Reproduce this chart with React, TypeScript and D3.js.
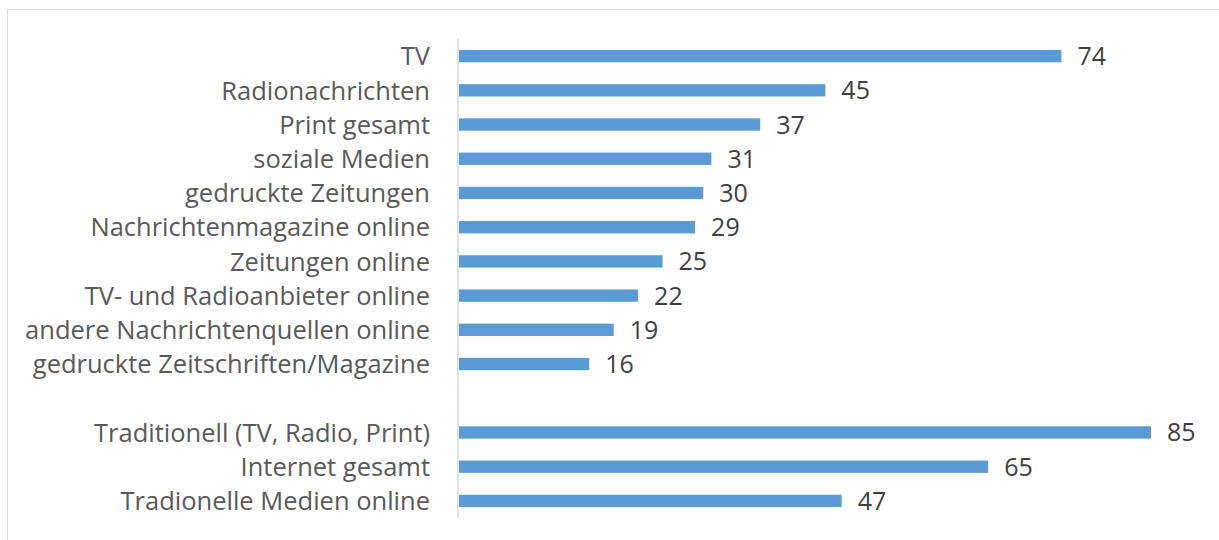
import React, { useEffect, useRef } from 'react';
import * as d3 from 'd3';

const categories = [
  'TV',
  'Radionachrichten',
  'Print gesamt',
  'soziale Medien',
  'gedruckte Zeitungen',
  'Nachrichtenmagazine online',
  'Zeitungen online',
  'TV- und Radioanbieter online',
  'andere Nachrichtenquellen online',
  'gedruckte Zeitschriften/Magazine',
  '',
  'Traditionell (TV, Radio, Print)',
  'Internet gesamt',
  'Tradionelle Medien online',
];
const values = [74, 45, 37, 31, 30, 29, 25, 22, 19, 16, null, 85, 65, 47];

const W = 1219;
const H = 540;

const App: React.FC = () => {
  const svgRef = useRef<SVGSVGElement>(null);

  useEffect(() => {
    if (!svgRef.current) return;
    const svg = d3.select(svgRef.current);
    svg.selectAll('*').remove();

    const font = '"Open Sans", "Noto Sans", sans-serif';

    // chart frame (runs off the right and bottom edge)
    svg.append('rect')
      .attr('x', 7.5).attr('y', 9.5)
      .attr('width', W + 20).attr('height', H + 20)
      .attr('fill', '#fff')
      .attr('stroke', '#d9d9d9')
      .attr('stroke-width', 1);

    const keys = categories.map((c, i) => `${i}`);
    const y = d3.scaleBand<string>().domain(keys).range([39, 518]).paddingInner(0.64).paddingOuter(0.32);
    const x = d3.scaleLinear().domain([0, 85]).range([459, 1151]);

    const rows = categories.map((c, i) => ({ key: keys[i], label: c, value: values[i] }));

    // axis line
    svg.append('line')
      .attr('x1', 458).attr('x2', 458)
      .attr('y1', 39).attr('y2', 518)
      .attr('stroke', '#d9d9d9').attr('stroke-width', 1.5);

    const data = rows.filter(d => d.value !== null) as { key: string; label: string; value: number }[];

    svg.selectAll('.bar')
      .data(data)
      .enter()
      .append('rect')
      .attr('x', x(0))
      .attr('y', d => y(d.key)!)
      .attr('width', d => x(d.value) - x(0))
      .attr('height', y.bandwidth())
      .attr('fill', '#5b9bd5');

    svg.selectAll('.cat')
      .data(data)
      .enter()
      .append('text')
      .attr('x', 430)
      .attr('y', d => y(d.key)! + y.bandwidth() / 2)
      .attr('dy', '0.36em')
      .attr('text-anchor', 'end')
      .attr('font-family', font)
      .attr('font-size', 25.5)
      .attr('fill', '#595959')
      .text(d => d.label);

    svg.selectAll('.val')
      .data(data)
      .enter()
      .append('text')
      .attr('x', d => x(d.value) + 16)
      .attr('y', d => y(d.key)! + y.bandwidth() / 2)
      .attr('dy', '0.36em')
      .attr('font-family', font)
      .attr('font-size', 25)
      .attr('fill', '#404040')
      .text(d => d.value);
  }, []);

  return (
    <svg
      ref={svgRef}
      width={W}
      height={H}
      style={{ position: 'absolute', left: 0, top: 0, background: '#fff' }}
    />
  );
};

export default App;
